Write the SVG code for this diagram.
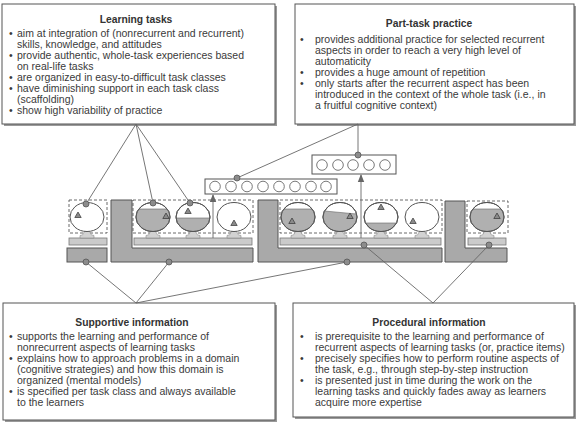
<svg xmlns="http://www.w3.org/2000/svg" width="580" height="423" viewBox="0 0 580 423">
<defs>
<style>
.box{fill:#fff;stroke:#555;stroke-width:1}
.shadow{fill:#9a9a9a}
.title{font-family:"Liberation Sans",Arial,sans-serif;font-size:10.3px;font-weight:bold;fill:#333;text-anchor:middle}
.txt{font-family:"Liberation Sans",Arial,sans-serif;font-size:10.5px;fill:#3a3a3a}
.dash{fill:none;stroke:#444;stroke-width:0.8;stroke-dasharray:3 2}
.dark{fill:#a9a9a9;stroke:#555;stroke-width:1}
.light{fill:#cbcbcb;stroke:#777;stroke-width:0.8}
.circ{fill:#fff;stroke:#555;stroke-width:1}
.fill{fill:#b0b0b0;stroke:#666;stroke-width:0.6}
.tri{fill:#8a8a8a;stroke:#333;stroke-width:0.7}
.dot{fill:#8c8c8c;stroke:#555;stroke-width:0.8}
.conn{fill:none;stroke:#666;stroke-width:0.9}
.sm{fill:#fff;stroke:#555;stroke-width:0.8}
.stem{fill:#d2d2d2;stroke:#888;stroke-width:0.6}
</style>
<marker id="arr" viewBox="0 0 8 8" refX="7" refY="4" markerWidth="8" markerHeight="8" markerUnits="userSpaceOnUse" orient="auto">
<path d="M0,0.8 L8,4 L0,7.2 Z" fill="#666"/>
</marker>
<path id="stemShape" d="M-7,7 L-7,4.5 Q-3.5,4.5 -3.5,2 L-2,0 L2,0 L3.5,2 Q3.5,4.5 7,4.5 L7,7 Z"/>
<path id="triShape" d="M0,-3 L3.2,2.5 L-3.2,2.5 Z"/>
</defs>

<g id="learning-tasks">
<rect class="shadow" x="4" y="6" width="273" height="120"/>
<rect class="box" x="2" y="4" width="273" height="120"/>
<text class="title" x="136" y="23">Learning tasks</text>
<text class="txt" x="9" y="37">•</text><text class="txt" x="17" y="37">aim at integration of (nonrecurrent and recurrent)</text>
<text class="txt" x="17" y="48">skills, knowledge, and attitudes</text>
<text class="txt" x="9" y="59">•</text><text class="txt" x="17" y="59">provide authentic, whole-task experiences based</text>
<text class="txt" x="17" y="70">on real-life tasks</text>
<text class="txt" x="9" y="81">•</text><text class="txt" x="17" y="81">are organized in easy-to-difficult task classes</text>
<text class="txt" x="9" y="92">•</text><text class="txt" x="17" y="92">have diminishing support in each task class</text>
<text class="txt" x="17" y="103">(scaffolding)</text>
<text class="txt" x="9" y="114">•</text><text class="txt" x="17" y="114">show high variability of practice</text>
</g>

<g id="part-task-practice">
<rect class="shadow" x="297" y="6" width="279" height="120"/>
<rect class="box" x="295" y="4" width="279" height="120"/>
<text class="title" x="429" y="27">Part-task practice</text>
<text class="txt" x="300" y="42.5">•</text><text class="txt" x="315" y="42.5">provides additional practice for selected recurrent</text>
<text class="txt" x="315" y="53.5">aspects in order to reach a very high level of</text>
<text class="txt" x="315" y="64.5">automaticity</text>
<text class="txt" x="300" y="75.5">•</text><text class="txt" x="315" y="75.5">provides a huge amount of repetition</text>
<text class="txt" x="300" y="86.5">•</text><text class="txt" x="315" y="86.5">only starts after the recurrent aspect has been</text>
<text class="txt" x="315" y="97.5">introduced in the context of the whole task (i.e., in</text>
<text class="txt" x="315" y="108.5">a fruitful cognitive context)</text>
</g>

<g id="supportive-information">
<rect class="shadow" x="5" y="305" width="272" height="117"/>
<rect class="box" x="3" y="303" width="272" height="117"/>
<text class="title" x="132" y="326">Supportive information</text>
<text class="txt" x="9" y="340">•</text><text class="txt" x="17" y="340">supports the learning and performance of</text>
<text class="txt" x="17" y="351">nonrecurrent aspects of learning tasks</text>
<text class="txt" x="9" y="362">•</text><text class="txt" x="17" y="362">explains how to approach problems in a domain</text>
<text class="txt" x="17" y="373">(cognitive strategies) and how this domain is</text>
<text class="txt" x="17" y="384">organized (mental models)</text>
<text class="txt" x="9" y="395">•</text><text class="txt" x="17" y="395">is specified per task class and always available</text>
<text class="txt" x="17" y="406">to the learners</text>
</g>

<g id="procedural-information">
<rect class="shadow" x="295" y="305" width="281" height="114"/>
<rect class="box" x="293" y="303" width="281" height="114"/>
<text class="title" x="429" y="326">Procedural information</text>
<text class="txt" x="300" y="339.5">•</text><text class="txt" x="315" y="339.5">is prerequisite to the learning and performance of</text>
<text class="txt" x="315" y="350.5">recurrent aspects of learning tasks (or, practice items)</text>
<text class="txt" x="300" y="362">•</text><text class="txt" x="315" y="362">precisely specifies how to perform routine aspects of</text>
<text class="txt" x="315" y="373">the task, e.g., through step-by-step instruction</text>
<text class="txt" x="300" y="384">•</text><text class="txt" x="315" y="384">is presented just in time during the work on the</text>
<text class="txt" x="315" y="395">learning tasks and quickly fades away as learners</text>
<text class="txt" x="315" y="406">acquire more expertise</text>
</g>

<g id="task-class-structures">
<rect class="dark" x="67" y="248" width="40" height="14"/>
<path class="dark" d="M111,200 L132,200 L132,248 L253,248 L253,262 L111,262 Z"/>
<path class="dark" d="M258,200 L278,200 L278,248 L442,248 L442,262 L258,262 Z"/>
<path class="dark" d="M445,201 L465,201 L465,248 L507,248 L507,262 L445,262 Z"/>
<rect class="light" x="69" y="238" width="38" height="7"/>
<rect class="light" x="134" y="238" width="118" height="7"/>
<rect class="light" x="280" y="238" width="161" height="7"/>
<rect class="light" x="468" y="238" width="38" height="7"/>
<rect class="dash" x="69" y="200" width="38" height="33"/>
<rect class="dash" x="133" y="200" width="120" height="33"/>
<rect class="dash" x="280" y="200" width="162" height="33"/>
<rect class="dash" x="467" y="201" width="41" height="32"/>
</g>

<g id="learning-task-items">
<use href="#stemShape" class="stem" x="87" y="231"/>
<use href="#stemShape" class="stem" x="153" y="231"/>
<use href="#stemShape" class="stem" x="193" y="231"/>
<use href="#stemShape" class="stem" x="234" y="231"/>
<use href="#stemShape" class="stem" x="298" y="231"/>
<use href="#stemShape" class="stem" x="340" y="231"/>
<use href="#stemShape" class="stem" x="381" y="231"/>
<use href="#stemShape" class="stem" x="422" y="231"/>
<use href="#stemShape" class="stem" x="487" y="231"/>

<ellipse class="circ" cx="87" cy="217" rx="17" ry="14.5"/>
<use href="#triShape" class="tri" x="78" y="215"/>

<ellipse class="circ" cx="153" cy="217" rx="17" ry="14.5"/>
<path class="fill" d="M138.8,209 L167.2,209 A17 14.5 0 1 1 138.8,209 Z"/>
<ellipse cx="153" cy="217" rx="17" ry="14.5" fill="none" stroke="#555"/>
<use href="#triShape" class="tri" x="166" y="216"/>

<ellipse class="circ" cx="193" cy="217" rx="17" ry="14.5"/>
<path class="fill" d="M176.04,218 L209.96,218 A17 14.5 0 0 1 176.04,218 Z"/>
<ellipse cx="193" cy="217" rx="17" ry="14.5" fill="none" stroke="#555"/>
<use href="#triShape" class="tri" x="188" y="211"/>

<ellipse class="circ" cx="234" cy="217" rx="17" ry="14.5"/>
<use href="#triShape" class="tri" x="234" y="223"/>

<ellipse class="circ" cx="298" cy="217" rx="17" ry="14.5"/>
<path class="fill" d="M283.8,209 L312.2,209 A17 14.5 0 1 1 283.8,209 Z"/>
<ellipse cx="298" cy="217" rx="17" ry="14.5" fill="none" stroke="#555"/>
<use href="#triShape" class="tri" x="292" y="221"/>

<ellipse class="circ" cx="340" cy="217" rx="17" ry="14.5"/>
<path class="fill" d="M324.5,211 L356.6,214 A17 14.5 0 1 1 324.5,211 Z"/>
<ellipse cx="340" cy="217" rx="17" ry="14.5" fill="none" stroke="#555"/>
<use href="#triShape" class="tri" x="350" y="216"/>

<ellipse class="circ" cx="381" cy="217" rx="17" ry="14.5"/>
<path class="fill" d="M365.5,223 L396.5,223 A17 14.5 0 0 1 365.5,223 Z"/>
<ellipse cx="381" cy="217" rx="17" ry="14.5" fill="none" stroke="#555"/>
<use href="#triShape" class="tri" x="381" y="207"/>

<ellipse class="circ" cx="422" cy="217" rx="17" ry="14.5"/>
<use href="#triShape" class="tri" x="413" y="221"/>

<ellipse class="circ" cx="487" cy="217" rx="17" ry="14.5"/>
<path class="fill" d="M472.8,209 L501.2,209 A17 14.5 0 1 1 472.8,209 Z"/>
<ellipse cx="487" cy="217" rx="17" ry="14.5" fill="none" stroke="#555"/>
<use href="#triShape" class="tri" x="497" y="216"/>
</g>

<g id="practice-items-1">
<rect class="box" x="205" y="179" width="132" height="15"/>
<circle class="sm" cx="215" cy="186.5" r="5.3"/>
<circle class="sm" cx="231" cy="186.5" r="5.3"/>
<circle class="sm" cx="247" cy="186.5" r="5.3"/>
<circle class="sm" cx="263" cy="186.5" r="5.3"/>
<circle class="sm" cx="279" cy="186.5" r="5.3"/>
<circle class="sm" cx="295" cy="186.5" r="5.3"/>
<circle class="sm" cx="311" cy="186.5" r="5.3"/>
<circle class="sm" cx="326" cy="186.5" r="5.3"/>
</g>

<g id="practice-items-2">
<rect class="box" x="312" y="155" width="84" height="19"/>
<circle class="sm" cx="322" cy="165" r="5.3"/>
<circle class="sm" cx="338" cy="165" r="5.3"/>
<circle class="sm" cx="353" cy="165" r="5.3"/>
<circle class="sm" cx="369" cy="165" r="5.3"/>
<circle class="sm" cx="385" cy="165" r="5.3"/>
</g>

<g id="connectors">
<line class="conn" x1="136" y1="124" x2="86" y2="204"/>
<line class="conn" x1="136" y1="124" x2="153" y2="203"/>
<line class="conn" x1="136" y1="124" x2="190" y2="203"/>
<line class="conn" x1="358" y1="124" x2="237" y2="178"/>
<line class="conn" x1="358" y1="124" x2="358" y2="155"/>
<line class="conn" x1="136" y1="303" x2="86" y2="262"/>
<line class="conn" x1="136" y1="303" x2="169" y2="262"/>
<line class="conn" x1="136" y1="303" x2="347" y2="262"/>
<line class="conn" x1="433" y1="303" x2="364" y2="245"/>
<line class="conn" x1="433" y1="303" x2="489" y2="245"/>
<line class="conn" x1="213" y1="238" x2="213" y2="195" marker-end="url(#arr)"/>
<line class="conn" x1="361" y1="238" x2="361" y2="175" marker-end="url(#arr)"/>
<circle class="dot" cx="86" cy="204" r="3"/>
<circle class="dot" cx="153" cy="203" r="3"/>
<circle class="dot" cx="190" cy="203" r="3"/>
<circle class="dot" cx="237" cy="178" r="3"/>
<circle class="dot" cx="358" cy="155" r="3"/>
<circle class="dot" cx="86" cy="262" r="3"/>
<circle class="dot" cx="169" cy="262" r="3"/>
<circle class="dot" cx="347" cy="262" r="3"/>
<circle class="dot" cx="364" cy="245" r="3"/>
<circle class="dot" cx="489" cy="245" r="3"/>
</g>
</svg>
